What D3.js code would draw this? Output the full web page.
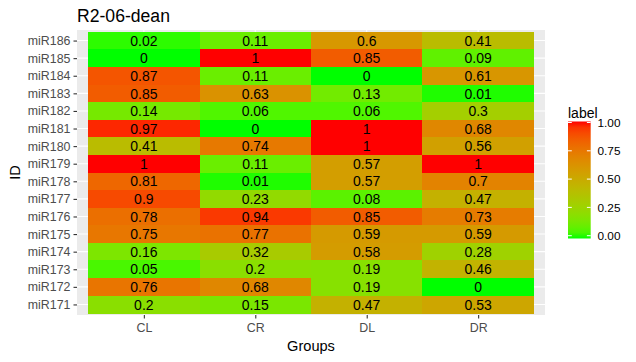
<!DOCTYPE html>
<html><head><meta charset="utf-8">
<script src="https://cdn.jsdelivr.net/npm/d3@7/dist/d3.min.js"></script>
<style>body{margin:0;background:#fff}svg{display:block}text{font-family:"Liberation Sans",Arial,sans-serif}</style>
</head><body><svg id="c" width="636" height="362"></svg>
<script>
const groups = ["CL","CR","DL","DR"];
const ids = ["miR186","miR185","miR184","miR183","miR182","miR181","miR180","miR179","miR178","miR177","miR176","miR175","miR174","miR173","miR172","miR171"];
const CL = [0.02,0,0.87,0.85,0.14,0.97,0.41,1,0.81,0.9,0.78,0.75,0.16,0.05,0.76,0.2];
const CR = [0.11,1,0.11,0.63,0.06,0,0.74,0.11,0.01,0.23,0.94,0.77,0.32,0.2,0.68,0.15];
const DL = [0.6,0.85,0,0.13,0.06,1,1,0.57,0.57,0.08,0.85,0.59,0.58,0.19,0.19,0.47];
const DR = [0.41,0.09,0.61,0.01,0.3,0.68,0.56,1,0.7,0.47,0.73,0.59,0.28,0.46,0,0.53];
const legendTicks = [0,0.25,0.5,0.75,1];
const series = {CL,CR,DL,DR};
const data = [];
groups.forEach(g => ids.forEach((id,i) => data.push({g, id, v: series[g][i]})));

const svg = d3.select("#c");
const P = {l:77, r:545, t:30, b:315};
const x = d3.scalePoint().domain(groups).range([P.l,P.r]).padding(0.6);
const y = d3.scalePoint().domain(ids).range([P.t,P.b]).padding(0.6);
const bw = x.step(), bh = y.step();
const color = d3.scaleLinear().domain([0,1]).range(["#00ff00","#ff0000"]).interpolate(d3.interpolateLab);

// panel
svg.append("rect").attr("x",P.l).attr("y",P.t).attr("width",P.r-P.l).attr("height",P.b-P.t).attr("fill","#ebebeb");
// gridlines
svg.append("g").selectAll("line").data(ids).join("line")
  .attr("x1",P.l).attr("x2",P.r).attr("y1",d=>y(d)).attr("y2",d=>y(d)).attr("stroke","#fff").attr("stroke-width",1.1);
svg.append("g").selectAll("line").data(groups).join("line")
  .attr("y1",P.t).attr("y2",P.b).attr("x1",d=>x(d)).attr("x2",d=>x(d)).attr("stroke","#fff").attr("stroke-width",1.1);
// tiles
svg.append("g").selectAll("rect").data(data).join("rect")
  .attr("x",d=>x(d.g)-bw/2).attr("y",d=>y(d.id)-bh/2).attr("width",bw+0.3).attr("height",bh+0.3)
  .attr("fill",d=>color(d.v)).attr("shape-rendering","crispEdges");
svg.append("g").selectAll("text").data(data).join("text")
  .attr("x",d=>x(d.g)).attr("y",d=>y(d.id)).attr("dy","0.37em").attr("text-anchor","middle")
  .attr("font-size","14px").attr("fill","#000").text(d=>String(d.v));

// axes
const ax = svg.append("g").attr("transform",`translate(0,${P.b})`).call(d3.axisBottom(x).tickSize(3.5).tickPadding(4));
const ay = svg.append("g").attr("transform",`translate(${P.l},0)`).call(d3.axisLeft(y).tickSize(3.5).tickPadding(3));
[ax,ay].forEach(a=>{a.select(".domain").remove();a.selectAll("line").attr("stroke","#333").attr("stroke-width",1.1);
  a.selectAll("text").attr("fill","#4d4d4d").attr("font-size","12.4px").attr("font-family","Liberation Sans, Arial, sans-serif");});
ax.selectAll("text").attr("dy","0.8em");

svg.append("text").attr("x",(P.l+P.r)/2).attr("y",351).attr("text-anchor","middle").attr("font-size","14.6px").text("Groups");
svg.append("text").attr("transform",`translate(20,${(P.t+P.b)/2}) rotate(-90)`).attr("text-anchor","middle").attr("font-size","14.6px").text("ID");
svg.append("text").attr("x",P.l).attr("y",22).attr("font-size","17.6px").text("R2-06-dean");

// legend
const ly = d3.scaleLinear().domain([0,1]).range([235.7,122.5]);
const defs = svg.append("defs");
const grad = defs.append("linearGradient").attr("id","lg").attr("x1",0).attr("x2",0).attr("y1",1).attr("y2",0);
d3.range(0,1.0001,0.05).forEach(t=>grad.append("stop").attr("offset",t).attr("stop-color",color(t)));
const lx = 568, lw = 22.7;
svg.append("rect").attr("x",lx).attr("y",121.5).attr("width",lw).attr("height",238.5-121.5).attr("fill","url(#lg)");
const lg = svg.append("g");
legendTicks.forEach(t=>{
  lg.append("line").attr("x1",lx).attr("x2",lx+3.8).attr("y1",ly(t)).attr("y2",ly(t)).attr("stroke","#fff").attr("stroke-width",1);
  lg.append("line").attr("x1",lx+lw-3.8).attr("x2",lx+lw).attr("y1",ly(t)).attr("y2",ly(t)).attr("stroke","#fff").attr("stroke-width",1);
  lg.append("text").attr("x",597.5).attr("y",ly(t)).attr("dy","0.36em").attr("font-size","11.8px").text(t.toFixed(2));
});
svg.append("text").attr("x",lx).attr("y",118).attr("font-size","14px").text("label");
</script></body></html>
